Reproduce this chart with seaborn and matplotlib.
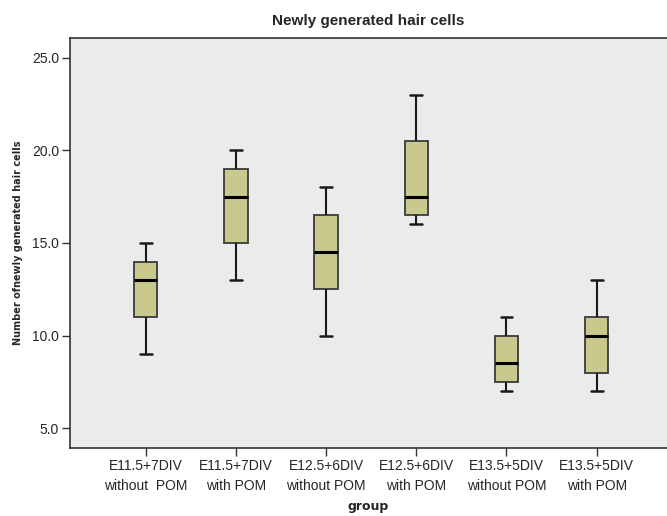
import numpy as np
import pandas as pd
import matplotlib
matplotlib.use("Agg")
import matplotlib.pyplot as plt
import seaborn as sns

# Groups on the x axis
GROUPS = ["E11.5+7DIV\nwithout  POM", "E11.5+7DIV\nwith POM",
          "E12.5+6DIV\nwithout POM", "E12.5+6DIV\nwith POM",
          "E13.5+5DIV\nwithout POM", "E13.5+5DIV\nwith POM"]

# Five-number summaries: min, Q1, median, Q3, max
LOW = [9.0, 13.0, 10.0, 16.0, 7.0, 7.0]
Q1 = [11.0, 15.0, 12.5, 16.5, 7.5, 8.0]
MEDIAN = [13.0, 17.5, 14.5, 17.5, 8.5, 10.0]
Q3 = [14.0, 19.0, 16.5, 20.5, 10.0, 11.0]
HIGH = [15.0, 20.0, 18.0, 23.0, 11.0, 13.0]

Y_TICKS = [5.0, 10.0, 15.0, 20.0, 25.0]

# With 5 points the linear quartiles land exactly on Q1 / Q3
rows = []
for g, a, b, c, d, e in zip(GROUPS, LOW, Q1, MEDIAN, Q3, HIGH):
    for v in (a, b, c, d, e):
        rows.append({"group": g, "value": v})
df = pd.DataFrame(rows)

sns.set_style("white")
plt.rcParams["font.family"] = ["Liberation Sans Narrow", "Liberation Sans", "DejaVu Sans"]

fig = plt.figure(figsize=(6.67, 5.16), dpi=100)
ax = fig.add_axes([70 / 667, 68 / 516, 597 / 667, 410 / 516])
ax.set_facecolor("#ebebeb")

sns.boxplot(data=df, x="group", y="value", order=GROUPS, ax=ax,
            color="#c9c98d", width=0.26, whis=np.inf, linecolor="#3a3a3a",
            linewidth=1.3, saturation=1,
            medianprops={"color": "black", "linewidth": 2.2},
            whiskerprops={"color": "#1a1a1a", "linewidth": 1.5},
            capprops={"color": "#1a1a1a", "linewidth": 1.8})

ax.set_xlim(-0.84, 5.78)
ax.set_ylim(3.92, 26.08)
ax.set_yticks(Y_TICKS)
ax.set_yticklabels([f"{t:.1f}" for t in Y_TICKS], fontsize=10)
for lbl in ax.get_xticklabels():
    lbl.set_linespacing(1.55)
ax.tick_params(axis="x", bottom=True, labelsize=10, length=6, width=1,
               color="#333333", direction="out", pad=2)
ax.tick_params(axis="y", left=True, length=6, width=1, color="#333333",
               direction="out", pad=2)

for side in ["left", "bottom", "top"]:
    ax.spines[side].set_color("#333333")
    ax.spines[side].set_linewidth(1.2)
ax.spines["right"].set_visible(False)

ax.set_title("Newly generated hair cells", fontsize=11, fontweight="bold",
             family=["Liberation Sans", "DejaVu Sans"], pad=9)
ax.set_xlabel("group", fontsize=9, fontweight="bold",
              family=["DejaVu Sans"], labelpad=5)
ax.set_ylabel("Number ofnewly generated hair cells", fontsize=7, fontweight="bold",
              family=["DejaVu Sans"], labelpad=6)

fig.savefig("out.png", dpi=100)
